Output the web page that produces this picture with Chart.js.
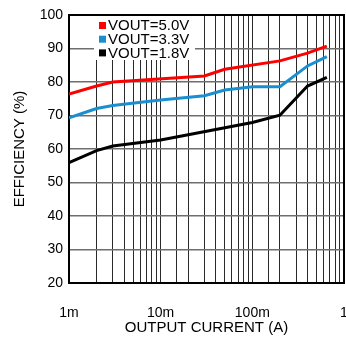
<!DOCTYPE html>
<html>
<head>
<meta charset="utf-8">
<style>
  html, body { margin: 0; padding: 0; background: #fff; }
  #wrap { width: 346px; height: 337px; }
</style>
</head>
<body>
<div id="wrap"><canvas id="effChart" width="346" height="337"></canvas></div>
<script src="https://cdn.jsdelivr.net/npm/chart.js"></script>
<script>
  // efficiency vs output current
  const seriesLabels = ["VOUT=5.0V", "VOUT=3.3V", "VOUT=1.8V"];
  const seriesColors = ["#ff0000", "#1a8fd0", "#000000"];

  const current5v0 = [0.001, 0.002, 0.003, 0.03, 0.05, 0.2, 0.4, 0.65];
  const eff5v0 = [76.4, 78.8, 80, 81.8, 83.8, 86.3, 88.6, 90.7];

  const current3v3 = [0.001, 0.002, 0.003, 0.01, 0.03, 0.05, 0.1, 0.2, 0.4, 0.65];
  const eff3v3 = [69.3, 72.1, 73, 74.6, 75.9, 77.6, 78.6, 78.6, 84.8, 87.6];

  const current1v8 = [0.001, 0.002, 0.003, 0.01, 0.1, 0.2, 0.4, 0.65];
  const eff1v8 = [55.9, 59.5, 60.9, 62.7, 67.9, 70.1, 78.8, 81.4];

  const xTickNames = { "-3": "1m", "-2": "10m", "-1": "100m", "0": "1" };

  const FONT = "'Liberation Sans', Arial, sans-serif";

  function pairs(xs, ys) {
    return xs.map((x, i) => ({ x: x, y: ys[i] }));
  }

  const seriesData = [
    pairs(current5v0, eff5v0),
    pairs(current3v3, eff3v3),
    pairs(current1v8, eff1v8),
  ];

  // black frame round the plot area
  const frame = {
    id: "plotFrame",
    beforeDatasetsDraw(chart) {
      const a = chart.chartArea;
      const c = chart.ctx;
      c.save();
      c.strokeStyle = "#000";
      c.lineWidth = 2;
      c.strokeRect(a.left, a.top, a.right - a.left, a.bottom - a.top);
      c.restore();
    },
  };

  // legend box inside the plot, top left
  const insideLegend = {
    id: "insideLegend",
    afterDatasetsDraw(chart) {
      const a = chart.chartArea;
      const c = chart.ctx;
      const x0 = a.left + 25;
      const y0 = a.top + 1;
      c.save();
      c.fillStyle = "#fff";
      c.fillRect(x0, y0, 101, 44);
      c.font = "15px " + FONT;
      c.textBaseline = "middle";
      chart.data.datasets.forEach((ds, i) => {
        const cy = a.top + 10.5 + i * 13.7;
        c.fillStyle = ds.borderColor;
        c.fillRect(x0 + 5, cy - 3.5, 7, 7);
        c.fillStyle = "#000";
        c.fillText(ds.label, x0 + 14, cy + 0.5);
      });
      c.restore();
    },
  };

  new Chart(document.getElementById("effChart"), {
    type: "line",
    data: {
      datasets: seriesLabels.map((label, i) => ({
        label: label,
        data: seriesData[i],
        borderColor: seriesColors[i],
        backgroundColor: seriesColors[i],
        borderWidth: 3,
        pointRadius: 0,
        tension: 0,
        fill: false,
      })),
    },
    options: {
      responsive: false,
      animation: false,
      layout: { padding: { top: 15, right: 2, left: 0, bottom: 0 } },
      plugins: {
        legend: { display: false },
        tooltip: { enabled: false },
      },
      scales: {
        x: {
          type: "logarithmic",
          min: 0.001,
          max: 1,
          border: { display: false },
          grid: { color: "#2a2a2a", lineWidth: 1, drawTicks: false },
          ticks: {
            autoSkip: false,
            maxRotation: 0,
            padding: 22,
            color: "#000",
            font: { family: FONT, size: 14 },
            callback: (v) => {
              const lg = Math.log10(v);
              const r = Math.round(lg);
              return Math.abs(lg - r) < 1e-6 ? xTickNames[String(r)] : "";
            },
          },
          title: {
            display: true,
            text: "OUTPUT CURRENT (A)",
            color: "#000",
            font: { family: FONT, size: 15 },
            padding: { top: -1.5, bottom: 0 },
          },
          afterFit: (s) => {
            s.height = 54;
            s.paddingLeft = 0;
            s.paddingRight = 0;
          },
        },
        y: {
          min: 20,
          max: 100,
          border: { display: false },
          grid: { color: "#6e6e6e", lineWidth: 1.5, drawTicks: false },
          ticks: {
            stepSize: 10,
            padding: 6,
            color: "#000",
            font: { family: FONT, size: 14 },
          },
          title: {
            display: true,
            text: "EFFICIENCY (%)",
            color: "#000",
            font: { family: FONT, size: 15 },
            padding: { top: 11, bottom: 0 },
          },
          afterFit: (s) => {
            s.width = 69;
          },
        },
      },
    },
    plugins: [frame, insideLegend],
  });
</script>
</body>
</html>
